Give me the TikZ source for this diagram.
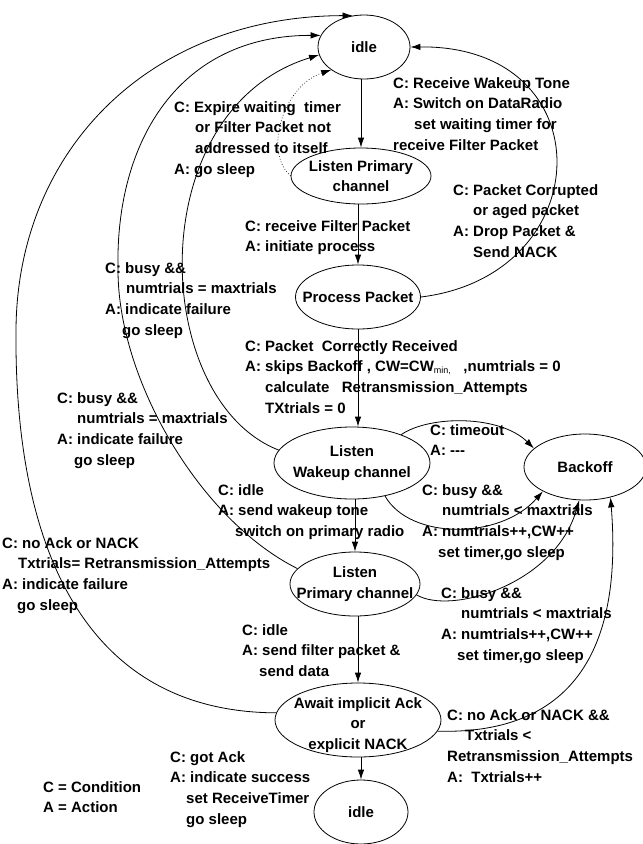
\documentclass[tikz,border=0pt]{standalone}
\usepackage{fontspec}
\setmainfont{Liberation Sans}
\usetikzlibrary{shapes.geometric,arrows.meta}
\newcommand\hin[1]{\hspace*{#1pt}}
\begin{document}
\begin{tikzpicture}[x=1pt,y=-1pt,
  every node/.style={font=\fontsize{15}{20.7}\selectfont\bfseries},
  st/.style={draw, ellipse, inner sep=0pt, line width=0.8pt},
  stxt/.style={align=center, inner sep=0pt},
  lab/.style={anchor=north west, align=left, inner sep=0pt},
  arr/.style={draw, line width=0.8pt, -{Latex[length=10pt,width=6.5pt]}},
  dotarr/.style={arr, dotted, line width=0.6pt}]
\useasboundingbox (0,0) rectangle (643,844);

% states
\node[st, minimum width=92pt, minimum height=64pt] (idle) at (364,47) {};
\node[stxt] (idleT) at (idle) {idle};
\node[st, minimum width=140pt, minimum height=56pt] (lp1) at (361,176) {};
\node[stxt] (lp1T) at (lp1) {Listen Primary\\channel};
\node[st, minimum width=125pt, minimum height=64pt] (proc) at (358,297) {};
\node[stxt] (procT) at (proc) {Process Packet};
\node[st, minimum width=156pt, minimum height=72pt] (lwake) at (352,463) {};
\node[stxt] (lwakeT) at (lwake) {Listen\\Wakeup channel};
\node[st, minimum width=122pt, minimum height=66pt] (back) at (585,467) {};
\node[stxt] (backT) at (back) {Backoff};
\node[st, minimum width=130pt, minimum height=64pt] (lp2) at (355,584) {};
\node[stxt] (lp2T) at (lp2) {Listen\\Primary channel};
\node[st, minimum width=166pt, minimum height=74pt] (await) at (358,720) {};
\node[stxt] (awaitT) at ([yshift=-5pt]await.center) {Await implicit Ack\\or\\explicit NACK};
\node[st, minimum width=94pt, minimum height=64pt] (idle2) at (361,812) {};
\node[stxt] (idle2T) at (idle2) {idle};

% vertical transitions
\draw[arr] (idle.south -| lp1.north) -- (lp1.north);
\draw[arr] (lp1.south -| proc.north) -- (proc.north);
\draw[arr] (proc.south) -- (proc.south |- lwake.north);
\draw[arr] (lwake.south -| lp2.north) -- (lp2.north);
\draw[arr] (lp2.south -| await.north) -- (await.north);
\draw[arr] (await.south -| idle2.north) -- (idle2.north);

% curved transitions
\draw[dotarr] (lp1.180) .. controls (262,150) and (285,85) .. (idle.215);
\draw[arr] (proc.east) .. controls (600,275) and (605,45) .. (idle.east);
\draw[arr] (await.175) .. controls (80,712) and (14,540) .. (16,330)
                       .. controls (17,150) and (150,16) .. (idle.110);
\draw[arr] (lp2.165) .. controls (200,520) and (118,380) .. (118,270)
                     .. controls (115,140) and (180,35) .. (idle.165);
\draw[arr] (lwake.170) .. controls (150,400) and (140,110) .. (idle.190);
\draw[arr] (lwake.30) .. controls (430,415) and (500,415) .. (back.160);
\draw[arr] (lwake.-45) .. controls (410,540) and (500,540) .. (back.210);
\draw[arr] (lp2.-10) .. controls (450,615) and (555,585) .. (back.-100);
\draw[arr] (await.-8) .. controls (580,735) and (622,640) .. (back.-50);

% labels
\node[lab] (l1) at (174,101) {C: Expire waiting\ \ timer\\\hin{21}or Filter Packet not\\\hin{21}addressed to itself\\A: go sleep};
\node[lab] (l2) at (393,77) {C: Receive Wakeup Tone\\A: Switch on DataRadio\\\hin{21}set waiting timer for\\receive Filter Packet};
\node[lab] (l3) at (453,184) {C: Packet Corrupted\\\hin{20}or aged packet\\A: Drop Packet \&\\\hin{20}Send NACK};
\node[lab] (l4) at (245,220) {C: receive Filter Packet\\A: initiate process};
\node[lab] (l5) at (105,262) {C: busy \&\&\\\hin{21}numtrials = maxtrials\\A: indicate failure\\\hin{17}go sleep};
\node[lab] (l6) at (245,340) {C: Packet\ \ Correctly Received\\A: skips Backoff , CW=CW{\mdseries\fontsize{9}{9}\selectfont\raisebox{-2pt}{min,}}\ \ \ ,numtrials = 0\\\hin{20}calculate\ \ \ Retransmission\_Attempts\\\hin{20}TXtrials = 0};
\node[lab] (l7) at (57,392) {C: busy \&\&\\\hin{20}numtrials = maxtrials\\A: indicate failure\\\hin{17}go sleep};
\node[lab] (l8) at (430,424) {C: timeout\\A: -{}-{}-};
\node[lab] (l9) at (422,484) {C: busy \&\&\\\hin{20}numtrials < maxtrials\\A: numtrials++,CW++\\\hin{16}set timer,go sleep};
\node[lab] (l10) at (218,484) {C: idle\\A: send wakeup tone\\\hin{17}switch on primary radio};
\node[lab] (l11) at (2,537) {C: no Ack or NACK\\\hin{16}Txtrials= Retransmission\_Attempts\\A: indicate failure\\\hin{15}go sleep};
\node[lab] (l12) at (441,587) {C: busy \&\&\\\hin{20}numtrials < maxtrials\\A: numtrials++,CW++\\\hin{16}set timer,go sleep};
\node[lab] (l13) at (242,624) {C: idle\\A: send filter packet \&\\\hin{17}send data};
\node[lab] (l14) at (447,709) {C: no Ack or NACK \&\&\\\hin{18}Txtrials <\\Retransmission\_Attempts\\A:\ \ Txtrials++};
\node[lab] (l15) at (170,751) {C: got Ack\\A: indicate success\\\hin{16}set ReceiveTimer\\\hin{16}go sleep};
\node[lab] (l16) at (43,781) {C = Condition\\A = Action};
\end{tikzpicture}
\end{document}
